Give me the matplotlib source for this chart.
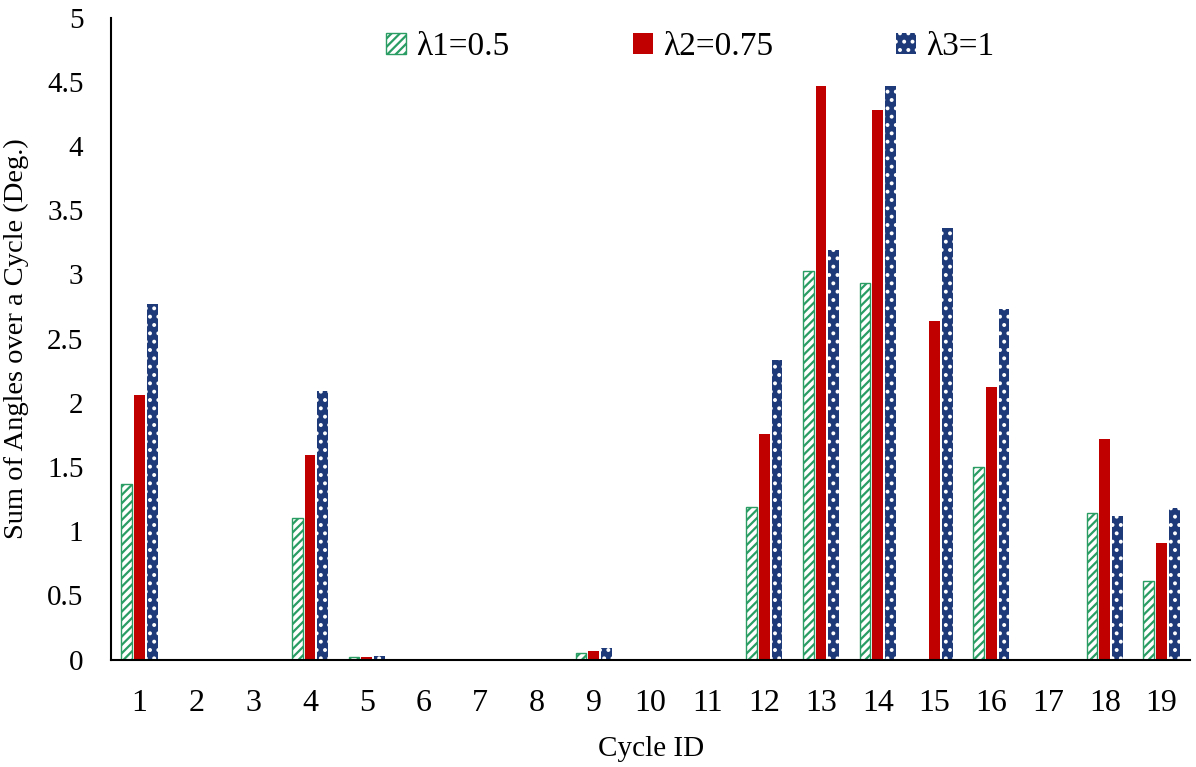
import numpy as np
import matplotlib.pyplot as plt

plt.rcParams['font.family'] = ['Liberation Serif', 'DejaVu Serif']
plt.rcParams['hatch.linewidth'] = 1.6

cycles = list(range(1, 20))
lam1 = [1.37, 0, 0, 1.10, 0.02, 0, 0, 0, 0.05, 0, 0, 1.19, 3.03, 2.93, 0, 1.50, 0, 1.14, 0.61]
lam2 = [2.06, 0, 0, 1.59, 0.02, 0, 0, 0, 0.07, 0, 0, 1.76, 4.47, 4.28, 2.64, 2.12, 0, 1.72, 0.91]
lam3 = [2.77, 0, 0, 2.09, 0.03, 0, 0, 0, 0.09, 0, 0, 2.33, 3.19, 4.47, 3.36, 2.73, 0, 1.12, 1.18]

fig, ax = plt.subplots(figsize=(11.96, 7.67), dpi=100)
fig.subplots_adjust(left=0.093, right=0.995, top=0.977, bottom=0.14)

x = np.array(cycles)
w = 0.19
d = 0.225
ax.bar(x - d, lam1, w, facecolor='white', edgecolor='#2a9d64', hatch='////',
       linewidth=1.0, label='\u03bb1=0.5')
ax.bar(x, lam2, w, color='#c00000', label='\u03bb2=0.75')
ax.bar(x + d, lam3, w, facecolor='#1f3a78', edgecolor='white', hatch='..',
       linewidth=0, label='\u03bb3=1')

ax.set_xlim(0.5, 19.5)
ax.set_ylim(0, 5)
ax.set_xticks(cycles)
ax.set_yticks(np.arange(0, 5.01, 0.5))
ax.set_yticklabels(['0', '0.5', '1', '1.5', '2', '2.5', '3', '3.5', '4', '4.5', '5'])
ax.tick_params(length=0)
ax.tick_params(axis='x', labelsize=23, pad=21)
ax.tick_params(axis='y', labelsize=21, pad=20)
ax.spines['top'].set_visible(False)
ax.spines['right'].set_visible(False)
ax.spines['left'].set_linewidth(1.5)
ax.spines['bottom'].set_linewidth(1.5)

ax.set_xlabel('Cycle ID', fontsize=21, labelpad=13)
ax.set_ylabel('Sum of Angles over a Cycle (Deg.)', fontsize=20.5, labelpad=13)

ax.legend(loc='upper center', bbox_to_anchor=(0.537, 1.025), ncol=3, frameon=False,
          fontsize=24, handlelength=0.6, handleheight=0.6, handletextpad=0.3,
          columnspacing=3.7)

fig.savefig('out.png', dpi=100)
